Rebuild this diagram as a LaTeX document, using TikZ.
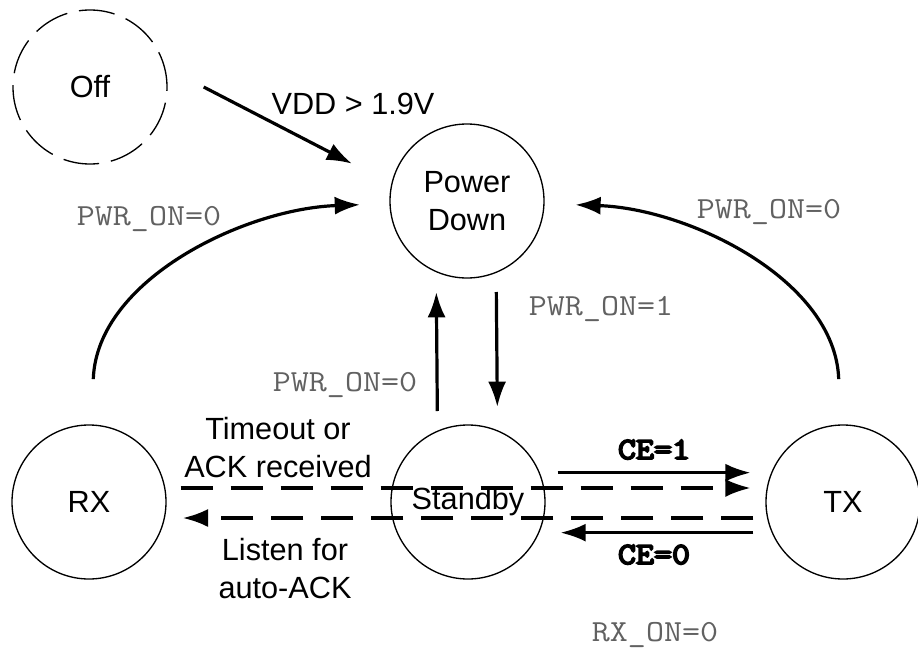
\documentclass[tikz,border=0pt]{standalone}
\usepackage{fontspec}
\setmainfont{Liberation Sans}
\newfontfamily\condfont{Latin Modern Mono}[FakeStretch=1.14]
\newfontfamily\cefont{Latin Modern Mono}[FakeStretch=1.14, FakeBold=6]
\usepackage{xcolor}
\usetikzlibrary{arrows.meta}

\definecolor{condgray}{gray}{0.38}

\begin{document}
\begin{tikzpicture}[
  x=0.75pt, y=-0.75pt,
  every node/.style={inner sep=0pt},
  state/.style={circle, draw, line width=1pt, minimum size=115.5pt,
                font=\fontsize{23}{28.5}\selectfont, align=center},
  offstate/.style={state, dash pattern=on 27pt off 9pt},
  trans/.style={-{Latex[length=19pt, width=13.5pt]}, line width=2.4pt},
  dtrans/.style={trans, dash pattern=on 24pt off 13.5pt},
  lbl/.style={font=\fontsize{23}{28.5}\selectfont, align=center},
  cond/.style={font=\fontsize{23}{28}\selectfont\condfont, color=condgray, anchor=base},
  bcond/.style={font=\fontsize{23}{28}\selectfont\cefont, anchor=base}
]
\useasboundingbox (0,0) rectangle (918,653);

% states
\node[offstate] (off)     at (90,87)   {Off};
\node[state]    (pwrdown) at (467,201) {Power\\Down};
\node[state]    (rx)      at (89,502)  {RX};
\node[state]    (standby) at (468,502) {Standby};
\node[state]    (tx)      at (843,502) {TX};

% power-up
\draw[trans] ([xshift=27pt]off.east) -- ([shift={(-28pt,28pt)}]pwrdown.west);
\node[lbl] (vdd) at (353,104) {VDD > 1.9V};

% back to power down
\draw[trans, shorten <=34pt, shorten >=22pt] (rx) to[out=88, in=182] (pwrdown);
\node[cond] (rxoff) at (149,225) {PWR\_ON=0};
\draw[trans, shorten <=34pt, shorten >=23pt] (tx) to[out=92, in=-2] (pwrdown);
\node[cond] (txoff) at (769,218) {PWR\_ON=0};

% power down <-> standby
\draw[trans] ([xshift=-23pt, yshift=10pt]standby.north) -- ([xshift=-23pt, yshift=-10pt]pwrdown.south);
\node[cond] (sboff) at (345,391) {PWR\_ON=0};
\draw[trans] ([xshift=22pt, yshift=-10pt]pwrdown.south) -- ([xshift=22pt, yshift=13pt]standby.north);
\node[cond] (pdon) at (601,315) {PWR\_ON=1};

% standby <-> tx
\draw[trans] ([shift={(9pt,22pt)}]standby.east) -- ([shift={(-11pt,22pt)}]tx.west);
\node[bcond] (ceone) at (654,459) {CE=1};
\draw[trans] ([shift={(-9pt,-23pt)}]tx.west) -- ([shift={(11pt,-23pt)}]standby.east);
\node[bcond] (cezero) at (654,564) {CE=0};

% tx <-> rx (auto-ACK)
\draw[dtrans] ([shift={(10.5pt,10.5pt)}]rx.east) -- ([shift={(-11pt,10.5pt)}]tx.west);
\draw[dtrans] ([shift={(-9pt,-12pt)}]tx.west) -- ([shift={(12pt,-12pt)}]rx.east);
\node[lbl] (timeout) at (278,448) {Timeout or\\ACK received};
\node[lbl] (listen)  at (285,569) {Listen for\\auto-ACK};

\node[cond] (rxonoff) at (655,641) {RX\_ON=0};
\end{tikzpicture}
\end{document}
